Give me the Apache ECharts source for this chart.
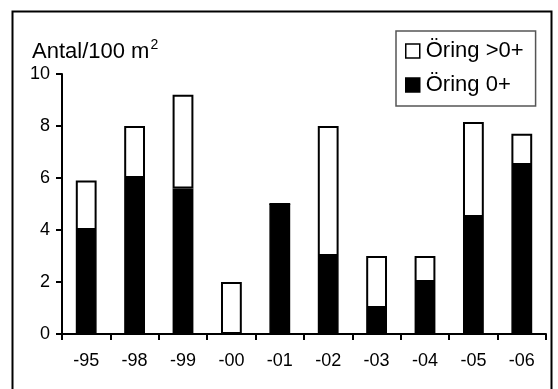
<!DOCTYPE html>
<html>
<head>
<meta charset="utf-8">
<script src="https://cdn.jsdelivr.net/npm/echarts@6/dist/echarts.min.js"></script>
<style>
html,body{margin:0;padding:0;background:#fff;}
#chart{width:558px;height:389px;}
</style>
</head>
<body>
<div id="chart"></div>
<script>
var categories = ['-95', '-98', '-99', '-00', '-01', '-02', '-03', '-04', '-05', '-06'];
var oring0 = [4.0, 6.0, 5.6, 0, 5.0, 3.0, 1.0, 2.0, 4.5, 6.5];
var oringOver0 = [1.9, 2.0, 3.6, 2.0, 0, 5.0, 2.0, 1.0, 3.65, 1.2];
var yTicks = [0, 2, 4, 6, 8, 10];
var seriesNames = ['Öring >0+', 'Öring 0+'];

var chart = echarts.init(document.getElementById('chart'), null, {renderer: 'canvas'});
var font = 'Liberation Sans, Arial, sans-serif';
chart.setOption({
  animation: false,
  backgroundColor: '#fff',
  textStyle: {fontFamily: font, color: '#000'},
  graphic: [{
    type: 'rect',
    shape: {x: 12.5, y: 11.5, width: 539, height: 390},
    style: {fill: 'none', stroke: '#000', lineWidth: 2},
    silent: true
  }],
  title: {
    text: '{a|Antal/100 m}{s|2}',
    left: 27, top: 33,
    textStyle: {
      fontWeight: 'normal',
      rich: {
        a: {fontSize: 22, fontWeight: 'normal', fontFamily: font, color: '#000'},
        s: {fontSize: 14, fontWeight: 'normal', fontFamily: font, color: '#000', verticalAlign: 'top', padding: [0, 0, 14, 1]}
      }
    }
  },
  legend: {
    data: seriesNames,
    orient: 'vertical',
    left: 396, top: 31,
    padding: [9, 12, 10, 9],
    itemGap: 12,
    itemWidth: 14, itemHeight: 14,
    icon: 'rect',
    itemStyle: {borderColor: '#000', borderWidth: 1.5},
    borderColor: '#555', borderWidth: 1.5,
    textStyle: {fontSize: 22, fontFamily: font, color: '#000', padding: [0, 0, 0, 1]}
  },
  grid: {left: 62, right: 12, top: 74, bottom: 55, containLabel: false},
  xAxis: {
    type: 'category',
    data: categories,
    axisLine: {lineStyle: {color: '#000', width: 2}},
    axisTick: {show: true, length: 6, lineStyle: {color: '#000', width: 2}, interval: 0},
    axisLabel: {fontSize: 18, color: '#000', margin: 18, interval: 0, fontFamily: font}
  },
  yAxis: {
    type: 'value',
    min: 0, max: 10, interval: 2,
    axisLine: {show: true, lineStyle: {color: '#000', width: 2}},
    axisTick: {show: true, length: 6, lineStyle: {color: '#000', width: 2}},
    axisLabel: {fontSize: 18, color: '#000', margin: 12, fontFamily: font,
      formatter: function (v) { return yTicks.indexOf(v) >= 0 ? String(v) : ''; }},
    splitLine: {show: false}
  },
  series: [{
    name: 'Öring 0+',
    type: 'bar',
    stack: 'total',
    data: oring0,
    barWidth: '43%',
    itemStyle: {color: '#000', borderColor: '#000', borderWidth: 1.5}
  }, {
    name: 'Öring >0+',
    type: 'bar',
    stack: 'total',
    data: oringOver0,
    barWidth: '43%',
    itemStyle: {color: '#fff', borderColor: '#000', borderWidth: 2}
  }]
});
</script>
</body>
</html>
